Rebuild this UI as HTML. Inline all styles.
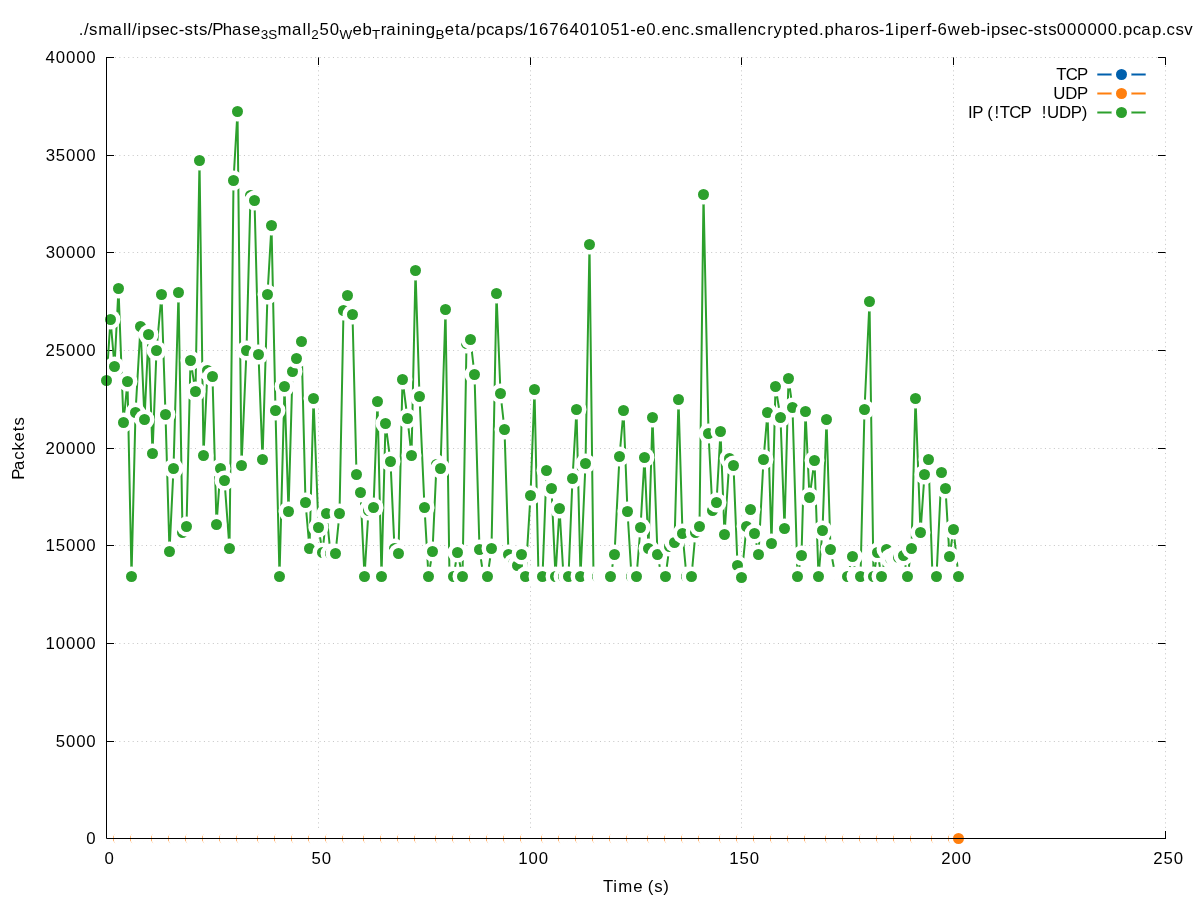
<!DOCTYPE html>
<html><head><meta charset="utf-8"><title>Packets over time</title>
<style>html,body{margin:0;padding:0;background:#fff;overflow:hidden}svg{display:block;will-change:transform}text{font-family:"Liberation Sans",sans-serif;fill:#000}</style></head>
<body>
<svg width="1197" height="900" viewBox="0 0 1197 900">
<rect width="1197" height="900" fill="#fff"/>
<g stroke="#000" stroke-opacity="0.23" stroke-width="1" stroke-dasharray="1 3.45" fill="none">
<path d="M106.0 838.5H1166.0"/><path d="M106.0 741.5H1166.0"/><path d="M106.0 643.5H1166.0"/><path d="M106.0 545.5H1166.0"/><path d="M106.0 448.5H1166.0"/><path d="M106.0 350.5H1166.0"/><path d="M106.0 252.5H1166.0"/><path d="M106.0 155.5H1166.0"/><path d="M106.0 57.5H1166.0"/><path d="M318.5 57.0V839.0"/><path d="M530.5 57.0V839.0"/><path d="M741.5 57.0V839.0"/><path d="M953.5 57.0V839.0"/><path d="M1165.5 57.0V839.0"/>
</g>
<g stroke="#000" stroke-width="1" fill="none">
<path d="M106.5 838.5h7.5M1165.5 838.5h-7.5"/><path d="M106.5 741.5h7.5M1165.5 741.5h-7.5"/><path d="M106.5 643.5h7.5M1165.5 643.5h-7.5"/><path d="M106.5 545.5h7.5M1165.5 545.5h-7.5"/><path d="M106.5 448.5h7.5M1165.5 448.5h-7.5"/><path d="M106.5 350.5h7.5M1165.5 350.5h-7.5"/><path d="M106.5 252.5h7.5M1165.5 252.5h-7.5"/><path d="M106.5 155.5h7.5M1165.5 155.5h-7.5"/><path d="M106.5 57.5h7.5M1165.5 57.5h-7.5"/><path d="M106.5 838.5v-7.5M106.5 57.5v7.5"/><path d="M318.5 838.5v-7.5M318.5 57.5v7.5"/><path d="M530.5 838.5v-7.5M530.5 57.5v7.5"/><path d="M741.5 838.5v-7.5M741.5 57.5v7.5"/><path d="M953.5 838.5v-7.5M953.5 57.5v7.5"/><path d="M1165.5 838.5v-7.5M1165.5 57.5v7.5"/>
</g>
<g id="ylabels">
<text x="86.33" y="844.10" font-size="16.80">0</text>
<text x="55.73 65.98 76.15 86.33" y="747.10" font-size="16.80">5000</text>
<text x="45.53 55.80 65.98 76.15 86.33" y="649.10" font-size="16.80">10000</text>
<text x="45.53 55.73 65.98 76.15 86.33" y="551.10" font-size="16.80">15000</text>
<text x="45.40 55.80 65.98 76.15 86.33" y="454.10" font-size="16.80">20000</text>
<text x="45.40 55.73 65.98 76.15 86.33" y="356.10" font-size="16.80">25000</text>
<text x="45.64 55.80 65.98 76.15 86.33" y="258.10" font-size="16.80">30000</text>
<text x="45.64 55.73 65.98 76.15 86.33" y="161.10" font-size="16.80">35000</text>
<text x="45.61 55.80 65.98 76.15 86.33" y="63.10" font-size="16.80">40000</text>
</g>
<g id="xlabels">
<text x="104.57" y="863.50" font-size="16.80">0</text>
<text x="311.42 321.66" y="863.50" font-size="16.80">50</text>
<text x="518.31 528.57 538.75" y="863.50" font-size="16.80">100</text>
<text x="729.31 739.51 749.75" y="863.50" font-size="16.80">150</text>
<text x="941.18 951.57 961.75" y="863.50" font-size="16.80">200</text>
<text x="1153.18 1163.51 1173.75" y="863.50" font-size="16.80">250</text>
</g>
<g id="xtitle"><text x="602.98 613.36 618.28 633.31" y="891.80" font-size="16.80">Time</text><text x="647.86 654.28 663.28" y="891.80" font-size="16.80">(s)</text></g>
<g id="ytitle" transform="translate(24.4 479.28) rotate(-90)"><text x="-0.51 9.28 19.46 28.81 37.80 48.12 53.71" y="0.00" font-size="16.80">Packets</text></g>
<g id="title"><text x="78.70 83.95 89.06 98.15 112.53 123.06 127.50 131.96 137.35 141.94 151.67 160.20 169.77 178.65 184.42 193.43 199.03 207.64 212.16 222.73 232.09 242.35 250.88" y="35.00" font-size="16.80">./small/ipsec-sts/Phase</text><text x="260.79" y="38.80" font-size="13.44">3</text><text x="268.24" y="38.80" font-size="13.44">S</text><text x="277.55 291.93 302.46 306.91" y="35.00" font-size="16.80">mall</text><text x="311.16" y="38.80" font-size="13.44">2</text><text x="319.49 329.73" y="35.00" font-size="16.80">50</text><text x="339.48" y="38.80" font-size="13.44">W</text><text x="352.44 362.51" y="35.00" font-size="16.80">eb</text><text x="371.96" y="38.80" font-size="13.44">T</text><text x="380.77 386.18 396.72 401.23 411.31 415.82 425.84" y="35.00" font-size="16.80">raining</text><text x="435.57" y="38.80" font-size="13.44">B</text><text x="444.75 455.07 460.21 470.75 476.28 485.94 494.36 505.04 514.77 523.39 528.75 539.01 549.16 559.37 569.55 579.73 589.83 600.09 610.21 620.37 630.31 636.27 646.25 656.21 661.38 671.38 681.09 690.08 695.05 704.14 718.52 729.05 733.49 737.87 747.86 757.58 767.16 773.47 782.92 793.33 799.12 808.99 819.04 824.43 834.49 843.85 854.83 860.83 870.48 878.82 884.83 895.05 899.64 909.57 919.93 926.40 931.43 937.53 947.76 960.66 970.73 980.47 986.52 991.11 1000.84 1009.37 1018.94 1027.82 1033.59 1042.60 1048.19 1056.86 1067.04 1077.22 1087.40 1097.58 1107.76 1117.73 1123.12 1132.78 1141.19 1151.88 1161.73 1166.62 1175.49 1184.28" y="35.00" font-size="16.80">eta/pcaps/1676401051-e0.enc.smallencrypted.pharos-1iperf-6web-ipsec-sts000000.pcap.csv</text></g>
<g class="key"><text x="1056.37 1065.81 1077.04" y="79.70" font-size="16.80">TCP</text></g>
<g class="key"><text x="1053.31 1065.35 1077.04" y="98.70" font-size="16.80">UDP</text></g>
<g class="key"><text x="968.01 972.19" y="117.70" font-size="16.80">IP</text><text x="987.34 994.56 999.86 1009.30 1020.53" y="117.70" font-size="16.80">(!TCP</text><text x="1041.74 1047.07 1059.11 1070.80 1081.71" y="117.70" font-size="16.80">!UDP)</text></g>
<g id="tcp"><path d="M1097.3 74.5H1145.7" stroke="#0060ad" stroke-width="2" fill="none"/><circle cx="1121.5" cy="74.5" r="9.95" fill="#fff"/><circle cx="1121.5" cy="74.5" r="5.5" fill="#0060ad"/>
</g>
<g id="udp"><path d="M1097.3 93.5H1145.7" stroke="#ff7f0e" stroke-width="2" fill="none"/><circle cx="1121.5" cy="93.5" r="9.95" fill="#fff"/><circle cx="1121.5" cy="93.5" r="5.5" fill="#ff7f0e"/>
<path d="M106.5 838.5H958.5" stroke="#ff7f0e" stroke-width="2" fill="none"/>
<circle cx="106.5" cy="838.5" r="9.95" fill="#fff"/><circle cx="106.5" cy="838.5" r="5.5" fill="#ff7f0e"/><circle cx="110.5" cy="838.5" r="9.95" fill="#fff"/><circle cx="110.5" cy="838.5" r="5.5" fill="#ff7f0e"/><circle cx="114.5" cy="838.5" r="9.95" fill="#fff"/><circle cx="114.5" cy="838.5" r="5.5" fill="#ff7f0e"/><circle cx="118.5" cy="838.5" r="9.95" fill="#fff"/><circle cx="118.5" cy="838.5" r="5.5" fill="#ff7f0e"/><circle cx="123.5" cy="838.5" r="9.95" fill="#fff"/><circle cx="123.5" cy="838.5" r="5.5" fill="#ff7f0e"/><circle cx="127.5" cy="838.5" r="9.95" fill="#fff"/><circle cx="127.5" cy="838.5" r="5.5" fill="#ff7f0e"/><circle cx="131.5" cy="838.5" r="9.95" fill="#fff"/><circle cx="131.5" cy="838.5" r="5.5" fill="#ff7f0e"/><circle cx="135.5" cy="838.5" r="9.95" fill="#fff"/><circle cx="135.5" cy="838.5" r="5.5" fill="#ff7f0e"/>
<circle cx="140.5" cy="838.5" r="9.95" fill="#fff"/><circle cx="140.5" cy="838.5" r="5.5" fill="#ff7f0e"/><circle cx="144.5" cy="838.5" r="9.95" fill="#fff"/><circle cx="144.5" cy="838.5" r="5.5" fill="#ff7f0e"/><circle cx="148.5" cy="838.5" r="9.95" fill="#fff"/><circle cx="148.5" cy="838.5" r="5.5" fill="#ff7f0e"/><circle cx="152.5" cy="838.5" r="9.95" fill="#fff"/><circle cx="152.5" cy="838.5" r="5.5" fill="#ff7f0e"/><circle cx="156.5" cy="838.5" r="9.95" fill="#fff"/><circle cx="156.5" cy="838.5" r="5.5" fill="#ff7f0e"/><circle cx="161.5" cy="838.5" r="9.95" fill="#fff"/><circle cx="161.5" cy="838.5" r="5.5" fill="#ff7f0e"/><circle cx="165.5" cy="838.5" r="9.95" fill="#fff"/><circle cx="165.5" cy="838.5" r="5.5" fill="#ff7f0e"/><circle cx="169.5" cy="838.5" r="9.95" fill="#fff"/><circle cx="169.5" cy="838.5" r="5.5" fill="#ff7f0e"/>
<circle cx="173.5" cy="838.5" r="9.95" fill="#fff"/><circle cx="173.5" cy="838.5" r="5.5" fill="#ff7f0e"/><circle cx="178.5" cy="838.5" r="9.95" fill="#fff"/><circle cx="178.5" cy="838.5" r="5.5" fill="#ff7f0e"/><circle cx="182.5" cy="838.5" r="9.95" fill="#fff"/><circle cx="182.5" cy="838.5" r="5.5" fill="#ff7f0e"/><circle cx="186.5" cy="838.5" r="9.95" fill="#fff"/><circle cx="186.5" cy="838.5" r="5.5" fill="#ff7f0e"/><circle cx="190.5" cy="838.5" r="9.95" fill="#fff"/><circle cx="190.5" cy="838.5" r="5.5" fill="#ff7f0e"/><circle cx="195.5" cy="838.5" r="9.95" fill="#fff"/><circle cx="195.5" cy="838.5" r="5.5" fill="#ff7f0e"/><circle cx="199.5" cy="838.5" r="9.95" fill="#fff"/><circle cx="199.5" cy="838.5" r="5.5" fill="#ff7f0e"/><circle cx="203.5" cy="838.5" r="9.95" fill="#fff"/><circle cx="203.5" cy="838.5" r="5.5" fill="#ff7f0e"/>
<circle cx="207.5" cy="838.5" r="9.95" fill="#fff"/><circle cx="207.5" cy="838.5" r="5.5" fill="#ff7f0e"/><circle cx="212.5" cy="838.5" r="9.95" fill="#fff"/><circle cx="212.5" cy="838.5" r="5.5" fill="#ff7f0e"/><circle cx="216.5" cy="838.5" r="9.95" fill="#fff"/><circle cx="216.5" cy="838.5" r="5.5" fill="#ff7f0e"/><circle cx="220.5" cy="838.5" r="9.95" fill="#fff"/><circle cx="220.5" cy="838.5" r="5.5" fill="#ff7f0e"/><circle cx="224.5" cy="838.5" r="9.95" fill="#fff"/><circle cx="224.5" cy="838.5" r="5.5" fill="#ff7f0e"/><circle cx="229.5" cy="838.5" r="9.95" fill="#fff"/><circle cx="229.5" cy="838.5" r="5.5" fill="#ff7f0e"/><circle cx="233.5" cy="838.5" r="9.95" fill="#fff"/><circle cx="233.5" cy="838.5" r="5.5" fill="#ff7f0e"/><circle cx="237.5" cy="838.5" r="9.95" fill="#fff"/><circle cx="237.5" cy="838.5" r="5.5" fill="#ff7f0e"/>
<circle cx="241.5" cy="838.5" r="9.95" fill="#fff"/><circle cx="241.5" cy="838.5" r="5.5" fill="#ff7f0e"/><circle cx="246.5" cy="838.5" r="9.95" fill="#fff"/><circle cx="246.5" cy="838.5" r="5.5" fill="#ff7f0e"/><circle cx="250.5" cy="838.5" r="9.95" fill="#fff"/><circle cx="250.5" cy="838.5" r="5.5" fill="#ff7f0e"/><circle cx="254.5" cy="838.5" r="9.95" fill="#fff"/><circle cx="254.5" cy="838.5" r="5.5" fill="#ff7f0e"/><circle cx="258.5" cy="838.5" r="9.95" fill="#fff"/><circle cx="258.5" cy="838.5" r="5.5" fill="#ff7f0e"/><circle cx="262.5" cy="838.5" r="9.95" fill="#fff"/><circle cx="262.5" cy="838.5" r="5.5" fill="#ff7f0e"/><circle cx="267.5" cy="838.5" r="9.95" fill="#fff"/><circle cx="267.5" cy="838.5" r="5.5" fill="#ff7f0e"/><circle cx="271.5" cy="838.5" r="9.95" fill="#fff"/><circle cx="271.5" cy="838.5" r="5.5" fill="#ff7f0e"/>
<circle cx="275.5" cy="838.5" r="9.95" fill="#fff"/><circle cx="275.5" cy="838.5" r="5.5" fill="#ff7f0e"/><circle cx="279.5" cy="838.5" r="9.95" fill="#fff"/><circle cx="279.5" cy="838.5" r="5.5" fill="#ff7f0e"/><circle cx="284.5" cy="838.5" r="9.95" fill="#fff"/><circle cx="284.5" cy="838.5" r="5.5" fill="#ff7f0e"/><circle cx="288.5" cy="838.5" r="9.95" fill="#fff"/><circle cx="288.5" cy="838.5" r="5.5" fill="#ff7f0e"/><circle cx="292.5" cy="838.5" r="9.95" fill="#fff"/><circle cx="292.5" cy="838.5" r="5.5" fill="#ff7f0e"/><circle cx="296.5" cy="838.5" r="9.95" fill="#fff"/><circle cx="296.5" cy="838.5" r="5.5" fill="#ff7f0e"/><circle cx="301.5" cy="838.5" r="9.95" fill="#fff"/><circle cx="301.5" cy="838.5" r="5.5" fill="#ff7f0e"/><circle cx="305.5" cy="838.5" r="9.95" fill="#fff"/><circle cx="305.5" cy="838.5" r="5.5" fill="#ff7f0e"/>
<circle cx="309.5" cy="838.5" r="9.95" fill="#fff"/><circle cx="309.5" cy="838.5" r="5.5" fill="#ff7f0e"/><circle cx="313.5" cy="838.5" r="9.95" fill="#fff"/><circle cx="313.5" cy="838.5" r="5.5" fill="#ff7f0e"/><circle cx="318.5" cy="838.5" r="9.95" fill="#fff"/><circle cx="318.5" cy="838.5" r="5.5" fill="#ff7f0e"/><circle cx="322.5" cy="838.5" r="9.95" fill="#fff"/><circle cx="322.5" cy="838.5" r="5.5" fill="#ff7f0e"/><circle cx="326.5" cy="838.5" r="9.95" fill="#fff"/><circle cx="326.5" cy="838.5" r="5.5" fill="#ff7f0e"/><circle cx="330.5" cy="838.5" r="9.95" fill="#fff"/><circle cx="330.5" cy="838.5" r="5.5" fill="#ff7f0e"/><circle cx="335.5" cy="838.5" r="9.95" fill="#fff"/><circle cx="335.5" cy="838.5" r="5.5" fill="#ff7f0e"/><circle cx="339.5" cy="838.5" r="9.95" fill="#fff"/><circle cx="339.5" cy="838.5" r="5.5" fill="#ff7f0e"/>
<circle cx="343.5" cy="838.5" r="9.95" fill="#fff"/><circle cx="343.5" cy="838.5" r="5.5" fill="#ff7f0e"/><circle cx="347.5" cy="838.5" r="9.95" fill="#fff"/><circle cx="347.5" cy="838.5" r="5.5" fill="#ff7f0e"/><circle cx="352.5" cy="838.5" r="9.95" fill="#fff"/><circle cx="352.5" cy="838.5" r="5.5" fill="#ff7f0e"/><circle cx="356.5" cy="838.5" r="9.95" fill="#fff"/><circle cx="356.5" cy="838.5" r="5.5" fill="#ff7f0e"/><circle cx="360.5" cy="838.5" r="9.95" fill="#fff"/><circle cx="360.5" cy="838.5" r="5.5" fill="#ff7f0e"/><circle cx="364.5" cy="838.5" r="9.95" fill="#fff"/><circle cx="364.5" cy="838.5" r="5.5" fill="#ff7f0e"/><circle cx="368.5" cy="838.5" r="9.95" fill="#fff"/><circle cx="368.5" cy="838.5" r="5.5" fill="#ff7f0e"/><circle cx="373.5" cy="838.5" r="9.95" fill="#fff"/><circle cx="373.5" cy="838.5" r="5.5" fill="#ff7f0e"/>
<circle cx="377.5" cy="838.5" r="9.95" fill="#fff"/><circle cx="377.5" cy="838.5" r="5.5" fill="#ff7f0e"/><circle cx="381.5" cy="838.5" r="9.95" fill="#fff"/><circle cx="381.5" cy="838.5" r="5.5" fill="#ff7f0e"/><circle cx="385.5" cy="838.5" r="9.95" fill="#fff"/><circle cx="385.5" cy="838.5" r="5.5" fill="#ff7f0e"/><circle cx="390.5" cy="838.5" r="9.95" fill="#fff"/><circle cx="390.5" cy="838.5" r="5.5" fill="#ff7f0e"/><circle cx="394.5" cy="838.5" r="9.95" fill="#fff"/><circle cx="394.5" cy="838.5" r="5.5" fill="#ff7f0e"/><circle cx="398.5" cy="838.5" r="9.95" fill="#fff"/><circle cx="398.5" cy="838.5" r="5.5" fill="#ff7f0e"/><circle cx="402.5" cy="838.5" r="9.95" fill="#fff"/><circle cx="402.5" cy="838.5" r="5.5" fill="#ff7f0e"/><circle cx="407.5" cy="838.5" r="9.95" fill="#fff"/><circle cx="407.5" cy="838.5" r="5.5" fill="#ff7f0e"/>
<circle cx="411.5" cy="838.5" r="9.95" fill="#fff"/><circle cx="411.5" cy="838.5" r="5.5" fill="#ff7f0e"/><circle cx="415.5" cy="838.5" r="9.95" fill="#fff"/><circle cx="415.5" cy="838.5" r="5.5" fill="#ff7f0e"/><circle cx="419.5" cy="838.5" r="9.95" fill="#fff"/><circle cx="419.5" cy="838.5" r="5.5" fill="#ff7f0e"/><circle cx="424.5" cy="838.5" r="9.95" fill="#fff"/><circle cx="424.5" cy="838.5" r="5.5" fill="#ff7f0e"/><circle cx="428.5" cy="838.5" r="9.95" fill="#fff"/><circle cx="428.5" cy="838.5" r="5.5" fill="#ff7f0e"/><circle cx="432.5" cy="838.5" r="9.95" fill="#fff"/><circle cx="432.5" cy="838.5" r="5.5" fill="#ff7f0e"/><circle cx="436.5" cy="838.5" r="9.95" fill="#fff"/><circle cx="436.5" cy="838.5" r="5.5" fill="#ff7f0e"/><circle cx="440.5" cy="838.5" r="9.95" fill="#fff"/><circle cx="440.5" cy="838.5" r="5.5" fill="#ff7f0e"/>
<circle cx="445.5" cy="838.5" r="9.95" fill="#fff"/><circle cx="445.5" cy="838.5" r="5.5" fill="#ff7f0e"/><circle cx="449.5" cy="838.5" r="9.95" fill="#fff"/><circle cx="449.5" cy="838.5" r="5.5" fill="#ff7f0e"/><circle cx="453.5" cy="838.5" r="9.95" fill="#fff"/><circle cx="453.5" cy="838.5" r="5.5" fill="#ff7f0e"/><circle cx="457.5" cy="838.5" r="9.95" fill="#fff"/><circle cx="457.5" cy="838.5" r="5.5" fill="#ff7f0e"/><circle cx="462.5" cy="838.5" r="9.95" fill="#fff"/><circle cx="462.5" cy="838.5" r="5.5" fill="#ff7f0e"/><circle cx="466.5" cy="838.5" r="9.95" fill="#fff"/><circle cx="466.5" cy="838.5" r="5.5" fill="#ff7f0e"/><circle cx="470.5" cy="838.5" r="9.95" fill="#fff"/><circle cx="470.5" cy="838.5" r="5.5" fill="#ff7f0e"/><circle cx="474.5" cy="838.5" r="9.95" fill="#fff"/><circle cx="474.5" cy="838.5" r="5.5" fill="#ff7f0e"/>
<circle cx="479.5" cy="838.5" r="9.95" fill="#fff"/><circle cx="479.5" cy="838.5" r="5.5" fill="#ff7f0e"/><circle cx="483.5" cy="838.5" r="9.95" fill="#fff"/><circle cx="483.5" cy="838.5" r="5.5" fill="#ff7f0e"/><circle cx="487.5" cy="838.5" r="9.95" fill="#fff"/><circle cx="487.5" cy="838.5" r="5.5" fill="#ff7f0e"/><circle cx="491.5" cy="838.5" r="9.95" fill="#fff"/><circle cx="491.5" cy="838.5" r="5.5" fill="#ff7f0e"/><circle cx="496.5" cy="838.5" r="9.95" fill="#fff"/><circle cx="496.5" cy="838.5" r="5.5" fill="#ff7f0e"/><circle cx="500.5" cy="838.5" r="9.95" fill="#fff"/><circle cx="500.5" cy="838.5" r="5.5" fill="#ff7f0e"/><circle cx="504.5" cy="838.5" r="9.95" fill="#fff"/><circle cx="504.5" cy="838.5" r="5.5" fill="#ff7f0e"/><circle cx="508.5" cy="838.5" r="9.95" fill="#fff"/><circle cx="508.5" cy="838.5" r="5.5" fill="#ff7f0e"/>
<circle cx="513.5" cy="838.5" r="9.95" fill="#fff"/><circle cx="513.5" cy="838.5" r="5.5" fill="#ff7f0e"/><circle cx="517.5" cy="838.5" r="9.95" fill="#fff"/><circle cx="517.5" cy="838.5" r="5.5" fill="#ff7f0e"/><circle cx="521.5" cy="838.5" r="9.95" fill="#fff"/><circle cx="521.5" cy="838.5" r="5.5" fill="#ff7f0e"/><circle cx="525.5" cy="838.5" r="9.95" fill="#fff"/><circle cx="525.5" cy="838.5" r="5.5" fill="#ff7f0e"/><circle cx="530.5" cy="838.5" r="9.95" fill="#fff"/><circle cx="530.5" cy="838.5" r="5.5" fill="#ff7f0e"/><circle cx="534.5" cy="838.5" r="9.95" fill="#fff"/><circle cx="534.5" cy="838.5" r="5.5" fill="#ff7f0e"/><circle cx="538.5" cy="838.5" r="9.95" fill="#fff"/><circle cx="538.5" cy="838.5" r="5.5" fill="#ff7f0e"/><circle cx="542.5" cy="838.5" r="9.95" fill="#fff"/><circle cx="542.5" cy="838.5" r="5.5" fill="#ff7f0e"/>
<circle cx="546.5" cy="838.5" r="9.95" fill="#fff"/><circle cx="546.5" cy="838.5" r="5.5" fill="#ff7f0e"/><circle cx="551.5" cy="838.5" r="9.95" fill="#fff"/><circle cx="551.5" cy="838.5" r="5.5" fill="#ff7f0e"/><circle cx="555.5" cy="838.5" r="9.95" fill="#fff"/><circle cx="555.5" cy="838.5" r="5.5" fill="#ff7f0e"/><circle cx="559.5" cy="838.5" r="9.95" fill="#fff"/><circle cx="559.5" cy="838.5" r="5.5" fill="#ff7f0e"/><circle cx="563.5" cy="838.5" r="9.95" fill="#fff"/><circle cx="563.5" cy="838.5" r="5.5" fill="#ff7f0e"/><circle cx="568.5" cy="838.5" r="9.95" fill="#fff"/><circle cx="568.5" cy="838.5" r="5.5" fill="#ff7f0e"/><circle cx="572.5" cy="838.5" r="9.95" fill="#fff"/><circle cx="572.5" cy="838.5" r="5.5" fill="#ff7f0e"/><circle cx="576.5" cy="838.5" r="9.95" fill="#fff"/><circle cx="576.5" cy="838.5" r="5.5" fill="#ff7f0e"/>
<circle cx="580.5" cy="838.5" r="9.95" fill="#fff"/><circle cx="580.5" cy="838.5" r="5.5" fill="#ff7f0e"/><circle cx="585.5" cy="838.5" r="9.95" fill="#fff"/><circle cx="585.5" cy="838.5" r="5.5" fill="#ff7f0e"/><circle cx="589.5" cy="838.5" r="9.95" fill="#fff"/><circle cx="589.5" cy="838.5" r="5.5" fill="#ff7f0e"/><circle cx="593.5" cy="838.5" r="9.95" fill="#fff"/><circle cx="593.5" cy="838.5" r="5.5" fill="#ff7f0e"/><circle cx="597.5" cy="838.5" r="9.95" fill="#fff"/><circle cx="597.5" cy="838.5" r="5.5" fill="#ff7f0e"/><circle cx="602.5" cy="838.5" r="9.95" fill="#fff"/><circle cx="602.5" cy="838.5" r="5.5" fill="#ff7f0e"/><circle cx="606.5" cy="838.5" r="9.95" fill="#fff"/><circle cx="606.5" cy="838.5" r="5.5" fill="#ff7f0e"/><circle cx="610.5" cy="838.5" r="9.95" fill="#fff"/><circle cx="610.5" cy="838.5" r="5.5" fill="#ff7f0e"/>
<circle cx="614.5" cy="838.5" r="9.95" fill="#fff"/><circle cx="614.5" cy="838.5" r="5.5" fill="#ff7f0e"/><circle cx="619.5" cy="838.5" r="9.95" fill="#fff"/><circle cx="619.5" cy="838.5" r="5.5" fill="#ff7f0e"/><circle cx="623.5" cy="838.5" r="9.95" fill="#fff"/><circle cx="623.5" cy="838.5" r="5.5" fill="#ff7f0e"/><circle cx="627.5" cy="838.5" r="9.95" fill="#fff"/><circle cx="627.5" cy="838.5" r="5.5" fill="#ff7f0e"/><circle cx="631.5" cy="838.5" r="9.95" fill="#fff"/><circle cx="631.5" cy="838.5" r="5.5" fill="#ff7f0e"/><circle cx="636.5" cy="838.5" r="9.95" fill="#fff"/><circle cx="636.5" cy="838.5" r="5.5" fill="#ff7f0e"/><circle cx="640.5" cy="838.5" r="9.95" fill="#fff"/><circle cx="640.5" cy="838.5" r="5.5" fill="#ff7f0e"/><circle cx="644.5" cy="838.5" r="9.95" fill="#fff"/><circle cx="644.5" cy="838.5" r="5.5" fill="#ff7f0e"/>
<circle cx="648.5" cy="838.5" r="9.95" fill="#fff"/><circle cx="648.5" cy="838.5" r="5.5" fill="#ff7f0e"/><circle cx="652.5" cy="838.5" r="9.95" fill="#fff"/><circle cx="652.5" cy="838.5" r="5.5" fill="#ff7f0e"/><circle cx="657.5" cy="838.5" r="9.95" fill="#fff"/><circle cx="657.5" cy="838.5" r="5.5" fill="#ff7f0e"/><circle cx="661.5" cy="838.5" r="9.95" fill="#fff"/><circle cx="661.5" cy="838.5" r="5.5" fill="#ff7f0e"/><circle cx="665.5" cy="838.5" r="9.95" fill="#fff"/><circle cx="665.5" cy="838.5" r="5.5" fill="#ff7f0e"/><circle cx="669.5" cy="838.5" r="9.95" fill="#fff"/><circle cx="669.5" cy="838.5" r="5.5" fill="#ff7f0e"/><circle cx="674.5" cy="838.5" r="9.95" fill="#fff"/><circle cx="674.5" cy="838.5" r="5.5" fill="#ff7f0e"/><circle cx="678.5" cy="838.5" r="9.95" fill="#fff"/><circle cx="678.5" cy="838.5" r="5.5" fill="#ff7f0e"/>
<circle cx="682.5" cy="838.5" r="9.95" fill="#fff"/><circle cx="682.5" cy="838.5" r="5.5" fill="#ff7f0e"/><circle cx="686.5" cy="838.5" r="9.95" fill="#fff"/><circle cx="686.5" cy="838.5" r="5.5" fill="#ff7f0e"/><circle cx="691.5" cy="838.5" r="9.95" fill="#fff"/><circle cx="691.5" cy="838.5" r="5.5" fill="#ff7f0e"/><circle cx="695.5" cy="838.5" r="9.95" fill="#fff"/><circle cx="695.5" cy="838.5" r="5.5" fill="#ff7f0e"/><circle cx="699.5" cy="838.5" r="9.95" fill="#fff"/><circle cx="699.5" cy="838.5" r="5.5" fill="#ff7f0e"/><circle cx="703.5" cy="838.5" r="9.95" fill="#fff"/><circle cx="703.5" cy="838.5" r="5.5" fill="#ff7f0e"/><circle cx="708.5" cy="838.5" r="9.95" fill="#fff"/><circle cx="708.5" cy="838.5" r="5.5" fill="#ff7f0e"/><circle cx="712.5" cy="838.5" r="9.95" fill="#fff"/><circle cx="712.5" cy="838.5" r="5.5" fill="#ff7f0e"/>
<circle cx="716.5" cy="838.5" r="9.95" fill="#fff"/><circle cx="716.5" cy="838.5" r="5.5" fill="#ff7f0e"/><circle cx="720.5" cy="838.5" r="9.95" fill="#fff"/><circle cx="720.5" cy="838.5" r="5.5" fill="#ff7f0e"/><circle cx="724.5" cy="838.5" r="9.95" fill="#fff"/><circle cx="724.5" cy="838.5" r="5.5" fill="#ff7f0e"/><circle cx="729.5" cy="838.5" r="9.95" fill="#fff"/><circle cx="729.5" cy="838.5" r="5.5" fill="#ff7f0e"/><circle cx="733.5" cy="838.5" r="9.95" fill="#fff"/><circle cx="733.5" cy="838.5" r="5.5" fill="#ff7f0e"/><circle cx="737.5" cy="838.5" r="9.95" fill="#fff"/><circle cx="737.5" cy="838.5" r="5.5" fill="#ff7f0e"/><circle cx="741.5" cy="838.5" r="9.95" fill="#fff"/><circle cx="741.5" cy="838.5" r="5.5" fill="#ff7f0e"/><circle cx="746.5" cy="838.5" r="9.95" fill="#fff"/><circle cx="746.5" cy="838.5" r="5.5" fill="#ff7f0e"/>
<circle cx="750.5" cy="838.5" r="9.95" fill="#fff"/><circle cx="750.5" cy="838.5" r="5.5" fill="#ff7f0e"/><circle cx="754.5" cy="838.5" r="9.95" fill="#fff"/><circle cx="754.5" cy="838.5" r="5.5" fill="#ff7f0e"/><circle cx="758.5" cy="838.5" r="9.95" fill="#fff"/><circle cx="758.5" cy="838.5" r="5.5" fill="#ff7f0e"/><circle cx="763.5" cy="838.5" r="9.95" fill="#fff"/><circle cx="763.5" cy="838.5" r="5.5" fill="#ff7f0e"/><circle cx="767.5" cy="838.5" r="9.95" fill="#fff"/><circle cx="767.5" cy="838.5" r="5.5" fill="#ff7f0e"/><circle cx="771.5" cy="838.5" r="9.95" fill="#fff"/><circle cx="771.5" cy="838.5" r="5.5" fill="#ff7f0e"/><circle cx="775.5" cy="838.5" r="9.95" fill="#fff"/><circle cx="775.5" cy="838.5" r="5.5" fill="#ff7f0e"/><circle cx="780.5" cy="838.5" r="9.95" fill="#fff"/><circle cx="780.5" cy="838.5" r="5.5" fill="#ff7f0e"/>
<circle cx="784.5" cy="838.5" r="9.95" fill="#fff"/><circle cx="784.5" cy="838.5" r="5.5" fill="#ff7f0e"/><circle cx="788.5" cy="838.5" r="9.95" fill="#fff"/><circle cx="788.5" cy="838.5" r="5.5" fill="#ff7f0e"/><circle cx="792.5" cy="838.5" r="9.95" fill="#fff"/><circle cx="792.5" cy="838.5" r="5.5" fill="#ff7f0e"/><circle cx="797.5" cy="838.5" r="9.95" fill="#fff"/><circle cx="797.5" cy="838.5" r="5.5" fill="#ff7f0e"/><circle cx="801.5" cy="838.5" r="9.95" fill="#fff"/><circle cx="801.5" cy="838.5" r="5.5" fill="#ff7f0e"/><circle cx="805.5" cy="838.5" r="9.95" fill="#fff"/><circle cx="805.5" cy="838.5" r="5.5" fill="#ff7f0e"/><circle cx="809.5" cy="838.5" r="9.95" fill="#fff"/><circle cx="809.5" cy="838.5" r="5.5" fill="#ff7f0e"/><circle cx="814.5" cy="838.5" r="9.95" fill="#fff"/><circle cx="814.5" cy="838.5" r="5.5" fill="#ff7f0e"/>
<circle cx="818.5" cy="838.5" r="9.95" fill="#fff"/><circle cx="818.5" cy="838.5" r="5.5" fill="#ff7f0e"/><circle cx="822.5" cy="838.5" r="9.95" fill="#fff"/><circle cx="822.5" cy="838.5" r="5.5" fill="#ff7f0e"/><circle cx="826.5" cy="838.5" r="9.95" fill="#fff"/><circle cx="826.5" cy="838.5" r="5.5" fill="#ff7f0e"/><circle cx="830.5" cy="838.5" r="9.95" fill="#fff"/><circle cx="830.5" cy="838.5" r="5.5" fill="#ff7f0e"/><circle cx="835.5" cy="838.5" r="9.95" fill="#fff"/><circle cx="835.5" cy="838.5" r="5.5" fill="#ff7f0e"/><circle cx="839.5" cy="838.5" r="9.95" fill="#fff"/><circle cx="839.5" cy="838.5" r="5.5" fill="#ff7f0e"/><circle cx="843.5" cy="838.5" r="9.95" fill="#fff"/><circle cx="843.5" cy="838.5" r="5.5" fill="#ff7f0e"/><circle cx="847.5" cy="838.5" r="9.95" fill="#fff"/><circle cx="847.5" cy="838.5" r="5.5" fill="#ff7f0e"/>
<circle cx="852.5" cy="838.5" r="9.95" fill="#fff"/><circle cx="852.5" cy="838.5" r="5.5" fill="#ff7f0e"/><circle cx="856.5" cy="838.5" r="9.95" fill="#fff"/><circle cx="856.5" cy="838.5" r="5.5" fill="#ff7f0e"/><circle cx="860.5" cy="838.5" r="9.95" fill="#fff"/><circle cx="860.5" cy="838.5" r="5.5" fill="#ff7f0e"/><circle cx="864.5" cy="838.5" r="9.95" fill="#fff"/><circle cx="864.5" cy="838.5" r="5.5" fill="#ff7f0e"/><circle cx="869.5" cy="838.5" r="9.95" fill="#fff"/><circle cx="869.5" cy="838.5" r="5.5" fill="#ff7f0e"/><circle cx="873.5" cy="838.5" r="9.95" fill="#fff"/><circle cx="873.5" cy="838.5" r="5.5" fill="#ff7f0e"/><circle cx="877.5" cy="838.5" r="9.95" fill="#fff"/><circle cx="877.5" cy="838.5" r="5.5" fill="#ff7f0e"/><circle cx="881.5" cy="838.5" r="9.95" fill="#fff"/><circle cx="881.5" cy="838.5" r="5.5" fill="#ff7f0e"/>
<circle cx="886.5" cy="838.5" r="9.95" fill="#fff"/><circle cx="886.5" cy="838.5" r="5.5" fill="#ff7f0e"/><circle cx="890.5" cy="838.5" r="9.95" fill="#fff"/><circle cx="890.5" cy="838.5" r="5.5" fill="#ff7f0e"/><circle cx="894.5" cy="838.5" r="9.95" fill="#fff"/><circle cx="894.5" cy="838.5" r="5.5" fill="#ff7f0e"/><circle cx="898.5" cy="838.5" r="9.95" fill="#fff"/><circle cx="898.5" cy="838.5" r="5.5" fill="#ff7f0e"/><circle cx="903.5" cy="838.5" r="9.95" fill="#fff"/><circle cx="903.5" cy="838.5" r="5.5" fill="#ff7f0e"/><circle cx="907.5" cy="838.5" r="9.95" fill="#fff"/><circle cx="907.5" cy="838.5" r="5.5" fill="#ff7f0e"/><circle cx="911.5" cy="838.5" r="9.95" fill="#fff"/><circle cx="911.5" cy="838.5" r="5.5" fill="#ff7f0e"/><circle cx="915.5" cy="838.5" r="9.95" fill="#fff"/><circle cx="915.5" cy="838.5" r="5.5" fill="#ff7f0e"/>
<circle cx="920.5" cy="838.5" r="9.95" fill="#fff"/><circle cx="920.5" cy="838.5" r="5.5" fill="#ff7f0e"/><circle cx="924.5" cy="838.5" r="9.95" fill="#fff"/><circle cx="924.5" cy="838.5" r="5.5" fill="#ff7f0e"/><circle cx="928.5" cy="838.5" r="9.95" fill="#fff"/><circle cx="928.5" cy="838.5" r="5.5" fill="#ff7f0e"/><circle cx="932.5" cy="838.5" r="9.95" fill="#fff"/><circle cx="932.5" cy="838.5" r="5.5" fill="#ff7f0e"/><circle cx="936.5" cy="838.5" r="9.95" fill="#fff"/><circle cx="936.5" cy="838.5" r="5.5" fill="#ff7f0e"/><circle cx="941.5" cy="838.5" r="9.95" fill="#fff"/><circle cx="941.5" cy="838.5" r="5.5" fill="#ff7f0e"/><circle cx="945.5" cy="838.5" r="9.95" fill="#fff"/><circle cx="945.5" cy="838.5" r="5.5" fill="#ff7f0e"/><circle cx="949.5" cy="838.5" r="9.95" fill="#fff"/><circle cx="949.5" cy="838.5" r="5.5" fill="#ff7f0e"/>
<circle cx="953.5" cy="838.5" r="9.95" fill="#fff"/><circle cx="953.5" cy="838.5" r="5.5" fill="#ff7f0e"/><circle cx="958.5" cy="838.5" r="9.95" fill="#fff"/><circle cx="958.5" cy="838.5" r="5.5" fill="#ff7f0e"/></g>
<g id="ip"><path d="M1097.3 112.5H1145.7" stroke="#2ca02c" stroke-width="2" fill="none"/><circle cx="1121.5" cy="112.5" r="9.95" fill="#fff"/><circle cx="1121.5" cy="112.5" r="5.5" fill="#2ca02c"/>
<polyline points="106.5,380.5 110.5,319.5 114.5,366.5 118.5,288.5 123.5,422.5 127.5,381.5 131.5,576.5 135.5,412.5 140.5,326.5 144.5,419.5 148.5,334.5 152.5,453.5 156.5,350.5 161.5,294.5 165.5,414.5 169.5,551.5 173.5,468.5 178.5,292.5 182.5,532.5 186.5,526.5 190.5,360.5 195.5,391.5 199.5,160.5 203.5,455.5 207.5,370.5 212.5,376.5 216.5,524.5 220.5,468.5 224.5,480.5 229.5,548.5 233.5,180.5 237.5,111.5 241.5,465.5 246.5,350.5 250.5,195.5 254.5,200.5 258.5,354.5 262.5,459.5 267.5,294.5 271.5,225.5 275.5,410.5 279.5,576.5 284.5,386.5 288.5,511.5 292.5,371.5 296.5,358.5 301.5,341.5 305.5,502.5 309.5,548.5 313.5,398.5 318.5,527.5 322.5,552.5 326.5,513.5 330.5,553.5 335.5,553.5 339.5,513.5 343.5,310.5 347.5,295.5 352.5,314.5 356.5,474.5 360.5,492.5 364.5,576.5 368.5,510.5 373.5,507.5 377.5,401.5 381.5,576.5 385.5,423.5 390.5,461.5 394.5,548.5 398.5,553.5 402.5,379.5 407.5,418.5 411.5,455.5 415.5,270.5 419.5,396.5 424.5,507.5 428.5,576.5 432.5,551.5 436.5,464.5 440.5,468.5 445.5,309.5 449.5,576.5 453.5,576.5 457.5,552.5 462.5,576.5 466.5,343.5 470.5,339.5 474.5,374.5 479.5,549.5 483.5,576.5 487.5,576.5 491.5,548.5 496.5,293.5 500.5,393.5 504.5,429.5 508.5,554.5 513.5,563.5 517.5,565.5 521.5,554.5 525.5,576.5 530.5,495.5 534.5,389.5 538.5,576.5 542.5,576.5 546.5,470.5 551.5,488.5 555.5,576.5 559.5,508.5 563.5,576.5 568.5,576.5 572.5,478.5 576.5,409.5 580.5,576.5 585.5,463.5 589.5,244.5 593.5,576.5 597.5,576.5 602.5,576.5 606.5,576.5 610.5,576.5 614.5,554.5 619.5,456.5 623.5,410.5 627.5,511.5 631.5,576.5 636.5,576.5 640.5,527.5 644.5,457.5 648.5,548.5 652.5,417.5 657.5,554.5 661.5,576.5 665.5,576.5 669.5,546.5 674.5,542.5 678.5,399.5 682.5,533.5 686.5,576.5 691.5,576.5 695.5,532.5 699.5,526.5 703.5,194.5 708.5,433.5 712.5,510.5 716.5,502.5 720.5,431.5 724.5,534.5 729.5,458.5 733.5,465.5 737.5,565.5 741.5,577.5 746.5,526.5 750.5,509.5 754.5,533.5 758.5,554.5 763.5,459.5 767.5,412.5 771.5,543.5 775.5,386.5 780.5,417.5 784.5,528.5 788.5,378.5 792.5,407.5 797.5,576.5 801.5,555.5 805.5,411.5 809.5,497.5 814.5,460.5 818.5,576.5 822.5,530.5 826.5,419.5 830.5,549.5 835.5,576.5 839.5,576.5 843.5,576.5 847.5,576.5 852.5,556.5 856.5,576.5 860.5,576.5 864.5,409.5 869.5,301.5 873.5,576.5 877.5,552.5 881.5,576.5 886.5,549.5 890.5,558.5 894.5,556.5 898.5,557.5 903.5,555.5 907.5,576.5 911.5,548.5 915.5,398.5 920.5,532.5 924.5,474.5 928.5,459.5 932.5,576.5 936.5,576.5 941.5,472.5 945.5,488.5 949.5,556.5 953.5,529.5 958.5,576.5" stroke="#2ca02c" stroke-width="2" fill="none" stroke-linejoin="round"/>
<circle cx="106.5" cy="380.5" r="9.95" fill="#fff"/><circle cx="106.5" cy="380.5" r="5.5" fill="#2ca02c"/><circle cx="110.5" cy="319.5" r="9.95" fill="#fff"/><circle cx="110.5" cy="319.5" r="5.5" fill="#2ca02c"/><circle cx="114.5" cy="366.5" r="9.95" fill="#fff"/><circle cx="114.5" cy="366.5" r="5.5" fill="#2ca02c"/><circle cx="118.5" cy="288.5" r="9.95" fill="#fff"/><circle cx="118.5" cy="288.5" r="5.5" fill="#2ca02c"/><circle cx="123.5" cy="422.5" r="9.95" fill="#fff"/><circle cx="123.5" cy="422.5" r="5.5" fill="#2ca02c"/><circle cx="127.5" cy="381.5" r="9.95" fill="#fff"/><circle cx="127.5" cy="381.5" r="5.5" fill="#2ca02c"/><circle cx="131.5" cy="576.5" r="9.95" fill="#fff"/><circle cx="131.5" cy="576.5" r="5.5" fill="#2ca02c"/><circle cx="135.5" cy="412.5" r="9.95" fill="#fff"/><circle cx="135.5" cy="412.5" r="5.5" fill="#2ca02c"/>
<circle cx="140.5" cy="326.5" r="9.95" fill="#fff"/><circle cx="140.5" cy="326.5" r="5.5" fill="#2ca02c"/><circle cx="144.5" cy="419.5" r="9.95" fill="#fff"/><circle cx="144.5" cy="419.5" r="5.5" fill="#2ca02c"/><circle cx="148.5" cy="334.5" r="9.95" fill="#fff"/><circle cx="148.5" cy="334.5" r="5.5" fill="#2ca02c"/><circle cx="152.5" cy="453.5" r="9.95" fill="#fff"/><circle cx="152.5" cy="453.5" r="5.5" fill="#2ca02c"/><circle cx="156.5" cy="350.5" r="9.95" fill="#fff"/><circle cx="156.5" cy="350.5" r="5.5" fill="#2ca02c"/><circle cx="161.5" cy="294.5" r="9.95" fill="#fff"/><circle cx="161.5" cy="294.5" r="5.5" fill="#2ca02c"/><circle cx="165.5" cy="414.5" r="9.95" fill="#fff"/><circle cx="165.5" cy="414.5" r="5.5" fill="#2ca02c"/><circle cx="169.5" cy="551.5" r="9.95" fill="#fff"/><circle cx="169.5" cy="551.5" r="5.5" fill="#2ca02c"/>
<circle cx="173.5" cy="468.5" r="9.95" fill="#fff"/><circle cx="173.5" cy="468.5" r="5.5" fill="#2ca02c"/><circle cx="178.5" cy="292.5" r="9.95" fill="#fff"/><circle cx="178.5" cy="292.5" r="5.5" fill="#2ca02c"/><circle cx="182.5" cy="532.5" r="9.95" fill="#fff"/><circle cx="182.5" cy="532.5" r="5.5" fill="#2ca02c"/><circle cx="186.5" cy="526.5" r="9.95" fill="#fff"/><circle cx="186.5" cy="526.5" r="5.5" fill="#2ca02c"/><circle cx="190.5" cy="360.5" r="9.95" fill="#fff"/><circle cx="190.5" cy="360.5" r="5.5" fill="#2ca02c"/><circle cx="195.5" cy="391.5" r="9.95" fill="#fff"/><circle cx="195.5" cy="391.5" r="5.5" fill="#2ca02c"/><circle cx="199.5" cy="160.5" r="9.95" fill="#fff"/><circle cx="199.5" cy="160.5" r="5.5" fill="#2ca02c"/><circle cx="203.5" cy="455.5" r="9.95" fill="#fff"/><circle cx="203.5" cy="455.5" r="5.5" fill="#2ca02c"/>
<circle cx="207.5" cy="370.5" r="9.95" fill="#fff"/><circle cx="207.5" cy="370.5" r="5.5" fill="#2ca02c"/><circle cx="212.5" cy="376.5" r="9.95" fill="#fff"/><circle cx="212.5" cy="376.5" r="5.5" fill="#2ca02c"/><circle cx="216.5" cy="524.5" r="9.95" fill="#fff"/><circle cx="216.5" cy="524.5" r="5.5" fill="#2ca02c"/><circle cx="220.5" cy="468.5" r="9.95" fill="#fff"/><circle cx="220.5" cy="468.5" r="5.5" fill="#2ca02c"/><circle cx="224.5" cy="480.5" r="9.95" fill="#fff"/><circle cx="224.5" cy="480.5" r="5.5" fill="#2ca02c"/><circle cx="229.5" cy="548.5" r="9.95" fill="#fff"/><circle cx="229.5" cy="548.5" r="5.5" fill="#2ca02c"/><circle cx="233.5" cy="180.5" r="9.95" fill="#fff"/><circle cx="233.5" cy="180.5" r="5.5" fill="#2ca02c"/><circle cx="237.5" cy="111.5" r="9.95" fill="#fff"/><circle cx="237.5" cy="111.5" r="5.5" fill="#2ca02c"/>
<circle cx="241.5" cy="465.5" r="9.95" fill="#fff"/><circle cx="241.5" cy="465.5" r="5.5" fill="#2ca02c"/><circle cx="246.5" cy="350.5" r="9.95" fill="#fff"/><circle cx="246.5" cy="350.5" r="5.5" fill="#2ca02c"/><circle cx="250.5" cy="195.5" r="9.95" fill="#fff"/><circle cx="250.5" cy="195.5" r="5.5" fill="#2ca02c"/><circle cx="254.5" cy="200.5" r="9.95" fill="#fff"/><circle cx="254.5" cy="200.5" r="5.5" fill="#2ca02c"/><circle cx="258.5" cy="354.5" r="9.95" fill="#fff"/><circle cx="258.5" cy="354.5" r="5.5" fill="#2ca02c"/><circle cx="262.5" cy="459.5" r="9.95" fill="#fff"/><circle cx="262.5" cy="459.5" r="5.5" fill="#2ca02c"/><circle cx="267.5" cy="294.5" r="9.95" fill="#fff"/><circle cx="267.5" cy="294.5" r="5.5" fill="#2ca02c"/><circle cx="271.5" cy="225.5" r="9.95" fill="#fff"/><circle cx="271.5" cy="225.5" r="5.5" fill="#2ca02c"/>
<circle cx="275.5" cy="410.5" r="9.95" fill="#fff"/><circle cx="275.5" cy="410.5" r="5.5" fill="#2ca02c"/><circle cx="279.5" cy="576.5" r="9.95" fill="#fff"/><circle cx="279.5" cy="576.5" r="5.5" fill="#2ca02c"/><circle cx="284.5" cy="386.5" r="9.95" fill="#fff"/><circle cx="284.5" cy="386.5" r="5.5" fill="#2ca02c"/><circle cx="288.5" cy="511.5" r="9.95" fill="#fff"/><circle cx="288.5" cy="511.5" r="5.5" fill="#2ca02c"/><circle cx="292.5" cy="371.5" r="9.95" fill="#fff"/><circle cx="292.5" cy="371.5" r="5.5" fill="#2ca02c"/><circle cx="296.5" cy="358.5" r="9.95" fill="#fff"/><circle cx="296.5" cy="358.5" r="5.5" fill="#2ca02c"/><circle cx="301.5" cy="341.5" r="9.95" fill="#fff"/><circle cx="301.5" cy="341.5" r="5.5" fill="#2ca02c"/><circle cx="305.5" cy="502.5" r="9.95" fill="#fff"/><circle cx="305.5" cy="502.5" r="5.5" fill="#2ca02c"/>
<circle cx="309.5" cy="548.5" r="9.95" fill="#fff"/><circle cx="309.5" cy="548.5" r="5.5" fill="#2ca02c"/><circle cx="313.5" cy="398.5" r="9.95" fill="#fff"/><circle cx="313.5" cy="398.5" r="5.5" fill="#2ca02c"/><circle cx="318.5" cy="527.5" r="9.95" fill="#fff"/><circle cx="318.5" cy="527.5" r="5.5" fill="#2ca02c"/><circle cx="322.5" cy="552.5" r="9.95" fill="#fff"/><circle cx="322.5" cy="552.5" r="5.5" fill="#2ca02c"/><circle cx="326.5" cy="513.5" r="9.95" fill="#fff"/><circle cx="326.5" cy="513.5" r="5.5" fill="#2ca02c"/><circle cx="330.5" cy="553.5" r="9.95" fill="#fff"/><circle cx="330.5" cy="553.5" r="5.5" fill="#2ca02c"/><circle cx="335.5" cy="553.5" r="9.95" fill="#fff"/><circle cx="335.5" cy="553.5" r="5.5" fill="#2ca02c"/><circle cx="339.5" cy="513.5" r="9.95" fill="#fff"/><circle cx="339.5" cy="513.5" r="5.5" fill="#2ca02c"/>
<circle cx="343.5" cy="310.5" r="9.95" fill="#fff"/><circle cx="343.5" cy="310.5" r="5.5" fill="#2ca02c"/><circle cx="347.5" cy="295.5" r="9.95" fill="#fff"/><circle cx="347.5" cy="295.5" r="5.5" fill="#2ca02c"/><circle cx="352.5" cy="314.5" r="9.95" fill="#fff"/><circle cx="352.5" cy="314.5" r="5.5" fill="#2ca02c"/><circle cx="356.5" cy="474.5" r="9.95" fill="#fff"/><circle cx="356.5" cy="474.5" r="5.5" fill="#2ca02c"/><circle cx="360.5" cy="492.5" r="9.95" fill="#fff"/><circle cx="360.5" cy="492.5" r="5.5" fill="#2ca02c"/><circle cx="364.5" cy="576.5" r="9.95" fill="#fff"/><circle cx="364.5" cy="576.5" r="5.5" fill="#2ca02c"/><circle cx="368.5" cy="510.5" r="9.95" fill="#fff"/><circle cx="368.5" cy="510.5" r="5.5" fill="#2ca02c"/><circle cx="373.5" cy="507.5" r="9.95" fill="#fff"/><circle cx="373.5" cy="507.5" r="5.5" fill="#2ca02c"/>
<circle cx="377.5" cy="401.5" r="9.95" fill="#fff"/><circle cx="377.5" cy="401.5" r="5.5" fill="#2ca02c"/><circle cx="381.5" cy="576.5" r="9.95" fill="#fff"/><circle cx="381.5" cy="576.5" r="5.5" fill="#2ca02c"/><circle cx="385.5" cy="423.5" r="9.95" fill="#fff"/><circle cx="385.5" cy="423.5" r="5.5" fill="#2ca02c"/><circle cx="390.5" cy="461.5" r="9.95" fill="#fff"/><circle cx="390.5" cy="461.5" r="5.5" fill="#2ca02c"/><circle cx="394.5" cy="548.5" r="9.95" fill="#fff"/><circle cx="394.5" cy="548.5" r="5.5" fill="#2ca02c"/><circle cx="398.5" cy="553.5" r="9.95" fill="#fff"/><circle cx="398.5" cy="553.5" r="5.5" fill="#2ca02c"/><circle cx="402.5" cy="379.5" r="9.95" fill="#fff"/><circle cx="402.5" cy="379.5" r="5.5" fill="#2ca02c"/><circle cx="407.5" cy="418.5" r="9.95" fill="#fff"/><circle cx="407.5" cy="418.5" r="5.5" fill="#2ca02c"/>
<circle cx="411.5" cy="455.5" r="9.95" fill="#fff"/><circle cx="411.5" cy="455.5" r="5.5" fill="#2ca02c"/><circle cx="415.5" cy="270.5" r="9.95" fill="#fff"/><circle cx="415.5" cy="270.5" r="5.5" fill="#2ca02c"/><circle cx="419.5" cy="396.5" r="9.95" fill="#fff"/><circle cx="419.5" cy="396.5" r="5.5" fill="#2ca02c"/><circle cx="424.5" cy="507.5" r="9.95" fill="#fff"/><circle cx="424.5" cy="507.5" r="5.5" fill="#2ca02c"/><circle cx="428.5" cy="576.5" r="9.95" fill="#fff"/><circle cx="428.5" cy="576.5" r="5.5" fill="#2ca02c"/><circle cx="432.5" cy="551.5" r="9.95" fill="#fff"/><circle cx="432.5" cy="551.5" r="5.5" fill="#2ca02c"/><circle cx="436.5" cy="464.5" r="9.95" fill="#fff"/><circle cx="436.5" cy="464.5" r="5.5" fill="#2ca02c"/><circle cx="440.5" cy="468.5" r="9.95" fill="#fff"/><circle cx="440.5" cy="468.5" r="5.5" fill="#2ca02c"/>
<circle cx="445.5" cy="309.5" r="9.95" fill="#fff"/><circle cx="445.5" cy="309.5" r="5.5" fill="#2ca02c"/><circle cx="449.5" cy="576.5" r="9.95" fill="#fff"/><circle cx="449.5" cy="576.5" r="5.5" fill="#2ca02c"/><circle cx="453.5" cy="576.5" r="9.95" fill="#fff"/><circle cx="453.5" cy="576.5" r="5.5" fill="#2ca02c"/><circle cx="457.5" cy="552.5" r="9.95" fill="#fff"/><circle cx="457.5" cy="552.5" r="5.5" fill="#2ca02c"/><circle cx="462.5" cy="576.5" r="9.95" fill="#fff"/><circle cx="462.5" cy="576.5" r="5.5" fill="#2ca02c"/><circle cx="466.5" cy="343.5" r="9.95" fill="#fff"/><circle cx="466.5" cy="343.5" r="5.5" fill="#2ca02c"/><circle cx="470.5" cy="339.5" r="9.95" fill="#fff"/><circle cx="470.5" cy="339.5" r="5.5" fill="#2ca02c"/><circle cx="474.5" cy="374.5" r="9.95" fill="#fff"/><circle cx="474.5" cy="374.5" r="5.5" fill="#2ca02c"/>
<circle cx="479.5" cy="549.5" r="9.95" fill="#fff"/><circle cx="479.5" cy="549.5" r="5.5" fill="#2ca02c"/><circle cx="483.5" cy="576.5" r="9.95" fill="#fff"/><circle cx="483.5" cy="576.5" r="5.5" fill="#2ca02c"/><circle cx="487.5" cy="576.5" r="9.95" fill="#fff"/><circle cx="487.5" cy="576.5" r="5.5" fill="#2ca02c"/><circle cx="491.5" cy="548.5" r="9.95" fill="#fff"/><circle cx="491.5" cy="548.5" r="5.5" fill="#2ca02c"/><circle cx="496.5" cy="293.5" r="9.95" fill="#fff"/><circle cx="496.5" cy="293.5" r="5.5" fill="#2ca02c"/><circle cx="500.5" cy="393.5" r="9.95" fill="#fff"/><circle cx="500.5" cy="393.5" r="5.5" fill="#2ca02c"/><circle cx="504.5" cy="429.5" r="9.95" fill="#fff"/><circle cx="504.5" cy="429.5" r="5.5" fill="#2ca02c"/><circle cx="508.5" cy="554.5" r="9.95" fill="#fff"/><circle cx="508.5" cy="554.5" r="5.5" fill="#2ca02c"/>
<circle cx="513.5" cy="563.5" r="9.95" fill="#fff"/><circle cx="513.5" cy="563.5" r="5.5" fill="#2ca02c"/><circle cx="517.5" cy="565.5" r="9.95" fill="#fff"/><circle cx="517.5" cy="565.5" r="5.5" fill="#2ca02c"/><circle cx="521.5" cy="554.5" r="9.95" fill="#fff"/><circle cx="521.5" cy="554.5" r="5.5" fill="#2ca02c"/><circle cx="525.5" cy="576.5" r="9.95" fill="#fff"/><circle cx="525.5" cy="576.5" r="5.5" fill="#2ca02c"/><circle cx="530.5" cy="495.5" r="9.95" fill="#fff"/><circle cx="530.5" cy="495.5" r="5.5" fill="#2ca02c"/><circle cx="534.5" cy="389.5" r="9.95" fill="#fff"/><circle cx="534.5" cy="389.5" r="5.5" fill="#2ca02c"/><circle cx="538.5" cy="576.5" r="9.95" fill="#fff"/><circle cx="538.5" cy="576.5" r="5.5" fill="#2ca02c"/><circle cx="542.5" cy="576.5" r="9.95" fill="#fff"/><circle cx="542.5" cy="576.5" r="5.5" fill="#2ca02c"/>
<circle cx="546.5" cy="470.5" r="9.95" fill="#fff"/><circle cx="546.5" cy="470.5" r="5.5" fill="#2ca02c"/><circle cx="551.5" cy="488.5" r="9.95" fill="#fff"/><circle cx="551.5" cy="488.5" r="5.5" fill="#2ca02c"/><circle cx="555.5" cy="576.5" r="9.95" fill="#fff"/><circle cx="555.5" cy="576.5" r="5.5" fill="#2ca02c"/><circle cx="559.5" cy="508.5" r="9.95" fill="#fff"/><circle cx="559.5" cy="508.5" r="5.5" fill="#2ca02c"/><circle cx="563.5" cy="576.5" r="9.95" fill="#fff"/><circle cx="563.5" cy="576.5" r="5.5" fill="#2ca02c"/><circle cx="568.5" cy="576.5" r="9.95" fill="#fff"/><circle cx="568.5" cy="576.5" r="5.5" fill="#2ca02c"/><circle cx="572.5" cy="478.5" r="9.95" fill="#fff"/><circle cx="572.5" cy="478.5" r="5.5" fill="#2ca02c"/><circle cx="576.5" cy="409.5" r="9.95" fill="#fff"/><circle cx="576.5" cy="409.5" r="5.5" fill="#2ca02c"/>
<circle cx="580.5" cy="576.5" r="9.95" fill="#fff"/><circle cx="580.5" cy="576.5" r="5.5" fill="#2ca02c"/><circle cx="585.5" cy="463.5" r="9.95" fill="#fff"/><circle cx="585.5" cy="463.5" r="5.5" fill="#2ca02c"/><circle cx="589.5" cy="244.5" r="9.95" fill="#fff"/><circle cx="589.5" cy="244.5" r="5.5" fill="#2ca02c"/><circle cx="593.5" cy="576.5" r="9.95" fill="#fff"/><circle cx="593.5" cy="576.5" r="5.5" fill="#2ca02c"/><circle cx="597.5" cy="576.5" r="9.95" fill="#fff"/><circle cx="597.5" cy="576.5" r="5.5" fill="#2ca02c"/><circle cx="602.5" cy="576.5" r="9.95" fill="#fff"/><circle cx="602.5" cy="576.5" r="5.5" fill="#2ca02c"/><circle cx="606.5" cy="576.5" r="9.95" fill="#fff"/><circle cx="606.5" cy="576.5" r="5.5" fill="#2ca02c"/><circle cx="610.5" cy="576.5" r="9.95" fill="#fff"/><circle cx="610.5" cy="576.5" r="5.5" fill="#2ca02c"/>
<circle cx="614.5" cy="554.5" r="9.95" fill="#fff"/><circle cx="614.5" cy="554.5" r="5.5" fill="#2ca02c"/><circle cx="619.5" cy="456.5" r="9.95" fill="#fff"/><circle cx="619.5" cy="456.5" r="5.5" fill="#2ca02c"/><circle cx="623.5" cy="410.5" r="9.95" fill="#fff"/><circle cx="623.5" cy="410.5" r="5.5" fill="#2ca02c"/><circle cx="627.5" cy="511.5" r="9.95" fill="#fff"/><circle cx="627.5" cy="511.5" r="5.5" fill="#2ca02c"/><circle cx="631.5" cy="576.5" r="9.95" fill="#fff"/><circle cx="631.5" cy="576.5" r="5.5" fill="#2ca02c"/><circle cx="636.5" cy="576.5" r="9.95" fill="#fff"/><circle cx="636.5" cy="576.5" r="5.5" fill="#2ca02c"/><circle cx="640.5" cy="527.5" r="9.95" fill="#fff"/><circle cx="640.5" cy="527.5" r="5.5" fill="#2ca02c"/><circle cx="644.5" cy="457.5" r="9.95" fill="#fff"/><circle cx="644.5" cy="457.5" r="5.5" fill="#2ca02c"/>
<circle cx="648.5" cy="548.5" r="9.95" fill="#fff"/><circle cx="648.5" cy="548.5" r="5.5" fill="#2ca02c"/><circle cx="652.5" cy="417.5" r="9.95" fill="#fff"/><circle cx="652.5" cy="417.5" r="5.5" fill="#2ca02c"/><circle cx="657.5" cy="554.5" r="9.95" fill="#fff"/><circle cx="657.5" cy="554.5" r="5.5" fill="#2ca02c"/><circle cx="661.5" cy="576.5" r="9.95" fill="#fff"/><circle cx="661.5" cy="576.5" r="5.5" fill="#2ca02c"/><circle cx="665.5" cy="576.5" r="9.95" fill="#fff"/><circle cx="665.5" cy="576.5" r="5.5" fill="#2ca02c"/><circle cx="669.5" cy="546.5" r="9.95" fill="#fff"/><circle cx="669.5" cy="546.5" r="5.5" fill="#2ca02c"/><circle cx="674.5" cy="542.5" r="9.95" fill="#fff"/><circle cx="674.5" cy="542.5" r="5.5" fill="#2ca02c"/><circle cx="678.5" cy="399.5" r="9.95" fill="#fff"/><circle cx="678.5" cy="399.5" r="5.5" fill="#2ca02c"/>
<circle cx="682.5" cy="533.5" r="9.95" fill="#fff"/><circle cx="682.5" cy="533.5" r="5.5" fill="#2ca02c"/><circle cx="686.5" cy="576.5" r="9.95" fill="#fff"/><circle cx="686.5" cy="576.5" r="5.5" fill="#2ca02c"/><circle cx="691.5" cy="576.5" r="9.95" fill="#fff"/><circle cx="691.5" cy="576.5" r="5.5" fill="#2ca02c"/><circle cx="695.5" cy="532.5" r="9.95" fill="#fff"/><circle cx="695.5" cy="532.5" r="5.5" fill="#2ca02c"/><circle cx="699.5" cy="526.5" r="9.95" fill="#fff"/><circle cx="699.5" cy="526.5" r="5.5" fill="#2ca02c"/><circle cx="703.5" cy="194.5" r="9.95" fill="#fff"/><circle cx="703.5" cy="194.5" r="5.5" fill="#2ca02c"/><circle cx="708.5" cy="433.5" r="9.95" fill="#fff"/><circle cx="708.5" cy="433.5" r="5.5" fill="#2ca02c"/><circle cx="712.5" cy="510.5" r="9.95" fill="#fff"/><circle cx="712.5" cy="510.5" r="5.5" fill="#2ca02c"/>
<circle cx="716.5" cy="502.5" r="9.95" fill="#fff"/><circle cx="716.5" cy="502.5" r="5.5" fill="#2ca02c"/><circle cx="720.5" cy="431.5" r="9.95" fill="#fff"/><circle cx="720.5" cy="431.5" r="5.5" fill="#2ca02c"/><circle cx="724.5" cy="534.5" r="9.95" fill="#fff"/><circle cx="724.5" cy="534.5" r="5.5" fill="#2ca02c"/><circle cx="729.5" cy="458.5" r="9.95" fill="#fff"/><circle cx="729.5" cy="458.5" r="5.5" fill="#2ca02c"/><circle cx="733.5" cy="465.5" r="9.95" fill="#fff"/><circle cx="733.5" cy="465.5" r="5.5" fill="#2ca02c"/><circle cx="737.5" cy="565.5" r="9.95" fill="#fff"/><circle cx="737.5" cy="565.5" r="5.5" fill="#2ca02c"/><circle cx="741.5" cy="577.5" r="9.95" fill="#fff"/><circle cx="741.5" cy="577.5" r="5.5" fill="#2ca02c"/><circle cx="746.5" cy="526.5" r="9.95" fill="#fff"/><circle cx="746.5" cy="526.5" r="5.5" fill="#2ca02c"/>
<circle cx="750.5" cy="509.5" r="9.95" fill="#fff"/><circle cx="750.5" cy="509.5" r="5.5" fill="#2ca02c"/><circle cx="754.5" cy="533.5" r="9.95" fill="#fff"/><circle cx="754.5" cy="533.5" r="5.5" fill="#2ca02c"/><circle cx="758.5" cy="554.5" r="9.95" fill="#fff"/><circle cx="758.5" cy="554.5" r="5.5" fill="#2ca02c"/><circle cx="763.5" cy="459.5" r="9.95" fill="#fff"/><circle cx="763.5" cy="459.5" r="5.5" fill="#2ca02c"/><circle cx="767.5" cy="412.5" r="9.95" fill="#fff"/><circle cx="767.5" cy="412.5" r="5.5" fill="#2ca02c"/><circle cx="771.5" cy="543.5" r="9.95" fill="#fff"/><circle cx="771.5" cy="543.5" r="5.5" fill="#2ca02c"/><circle cx="775.5" cy="386.5" r="9.95" fill="#fff"/><circle cx="775.5" cy="386.5" r="5.5" fill="#2ca02c"/><circle cx="780.5" cy="417.5" r="9.95" fill="#fff"/><circle cx="780.5" cy="417.5" r="5.5" fill="#2ca02c"/>
<circle cx="784.5" cy="528.5" r="9.95" fill="#fff"/><circle cx="784.5" cy="528.5" r="5.5" fill="#2ca02c"/><circle cx="788.5" cy="378.5" r="9.95" fill="#fff"/><circle cx="788.5" cy="378.5" r="5.5" fill="#2ca02c"/><circle cx="792.5" cy="407.5" r="9.95" fill="#fff"/><circle cx="792.5" cy="407.5" r="5.5" fill="#2ca02c"/><circle cx="797.5" cy="576.5" r="9.95" fill="#fff"/><circle cx="797.5" cy="576.5" r="5.5" fill="#2ca02c"/><circle cx="801.5" cy="555.5" r="9.95" fill="#fff"/><circle cx="801.5" cy="555.5" r="5.5" fill="#2ca02c"/><circle cx="805.5" cy="411.5" r="9.95" fill="#fff"/><circle cx="805.5" cy="411.5" r="5.5" fill="#2ca02c"/><circle cx="809.5" cy="497.5" r="9.95" fill="#fff"/><circle cx="809.5" cy="497.5" r="5.5" fill="#2ca02c"/><circle cx="814.5" cy="460.5" r="9.95" fill="#fff"/><circle cx="814.5" cy="460.5" r="5.5" fill="#2ca02c"/>
<circle cx="818.5" cy="576.5" r="9.95" fill="#fff"/><circle cx="818.5" cy="576.5" r="5.5" fill="#2ca02c"/><circle cx="822.5" cy="530.5" r="9.95" fill="#fff"/><circle cx="822.5" cy="530.5" r="5.5" fill="#2ca02c"/><circle cx="826.5" cy="419.5" r="9.95" fill="#fff"/><circle cx="826.5" cy="419.5" r="5.5" fill="#2ca02c"/><circle cx="830.5" cy="549.5" r="9.95" fill="#fff"/><circle cx="830.5" cy="549.5" r="5.5" fill="#2ca02c"/><circle cx="835.5" cy="576.5" r="9.95" fill="#fff"/><circle cx="835.5" cy="576.5" r="5.5" fill="#2ca02c"/><circle cx="839.5" cy="576.5" r="9.95" fill="#fff"/><circle cx="839.5" cy="576.5" r="5.5" fill="#2ca02c"/><circle cx="843.5" cy="576.5" r="9.95" fill="#fff"/><circle cx="843.5" cy="576.5" r="5.5" fill="#2ca02c"/><circle cx="847.5" cy="576.5" r="9.95" fill="#fff"/><circle cx="847.5" cy="576.5" r="5.5" fill="#2ca02c"/>
<circle cx="852.5" cy="556.5" r="9.95" fill="#fff"/><circle cx="852.5" cy="556.5" r="5.5" fill="#2ca02c"/><circle cx="856.5" cy="576.5" r="9.95" fill="#fff"/><circle cx="856.5" cy="576.5" r="5.5" fill="#2ca02c"/><circle cx="860.5" cy="576.5" r="9.95" fill="#fff"/><circle cx="860.5" cy="576.5" r="5.5" fill="#2ca02c"/><circle cx="864.5" cy="409.5" r="9.95" fill="#fff"/><circle cx="864.5" cy="409.5" r="5.5" fill="#2ca02c"/><circle cx="869.5" cy="301.5" r="9.95" fill="#fff"/><circle cx="869.5" cy="301.5" r="5.5" fill="#2ca02c"/><circle cx="873.5" cy="576.5" r="9.95" fill="#fff"/><circle cx="873.5" cy="576.5" r="5.5" fill="#2ca02c"/><circle cx="877.5" cy="552.5" r="9.95" fill="#fff"/><circle cx="877.5" cy="552.5" r="5.5" fill="#2ca02c"/><circle cx="881.5" cy="576.5" r="9.95" fill="#fff"/><circle cx="881.5" cy="576.5" r="5.5" fill="#2ca02c"/>
<circle cx="886.5" cy="549.5" r="9.95" fill="#fff"/><circle cx="886.5" cy="549.5" r="5.5" fill="#2ca02c"/><circle cx="890.5" cy="558.5" r="9.95" fill="#fff"/><circle cx="890.5" cy="558.5" r="5.5" fill="#2ca02c"/><circle cx="894.5" cy="556.5" r="9.95" fill="#fff"/><circle cx="894.5" cy="556.5" r="5.5" fill="#2ca02c"/><circle cx="898.5" cy="557.5" r="9.95" fill="#fff"/><circle cx="898.5" cy="557.5" r="5.5" fill="#2ca02c"/><circle cx="903.5" cy="555.5" r="9.95" fill="#fff"/><circle cx="903.5" cy="555.5" r="5.5" fill="#2ca02c"/><circle cx="907.5" cy="576.5" r="9.95" fill="#fff"/><circle cx="907.5" cy="576.5" r="5.5" fill="#2ca02c"/><circle cx="911.5" cy="548.5" r="9.95" fill="#fff"/><circle cx="911.5" cy="548.5" r="5.5" fill="#2ca02c"/><circle cx="915.5" cy="398.5" r="9.95" fill="#fff"/><circle cx="915.5" cy="398.5" r="5.5" fill="#2ca02c"/>
<circle cx="920.5" cy="532.5" r="9.95" fill="#fff"/><circle cx="920.5" cy="532.5" r="5.5" fill="#2ca02c"/><circle cx="924.5" cy="474.5" r="9.95" fill="#fff"/><circle cx="924.5" cy="474.5" r="5.5" fill="#2ca02c"/><circle cx="928.5" cy="459.5" r="9.95" fill="#fff"/><circle cx="928.5" cy="459.5" r="5.5" fill="#2ca02c"/><circle cx="932.5" cy="576.5" r="9.95" fill="#fff"/><circle cx="932.5" cy="576.5" r="5.5" fill="#2ca02c"/><circle cx="936.5" cy="576.5" r="9.95" fill="#fff"/><circle cx="936.5" cy="576.5" r="5.5" fill="#2ca02c"/><circle cx="941.5" cy="472.5" r="9.95" fill="#fff"/><circle cx="941.5" cy="472.5" r="5.5" fill="#2ca02c"/><circle cx="945.5" cy="488.5" r="9.95" fill="#fff"/><circle cx="945.5" cy="488.5" r="5.5" fill="#2ca02c"/><circle cx="949.5" cy="556.5" r="9.95" fill="#fff"/><circle cx="949.5" cy="556.5" r="5.5" fill="#2ca02c"/>
<circle cx="953.5" cy="529.5" r="9.95" fill="#fff"/><circle cx="953.5" cy="529.5" r="5.5" fill="#2ca02c"/><circle cx="958.5" cy="576.5" r="9.95" fill="#fff"/><circle cx="958.5" cy="576.5" r="5.5" fill="#2ca02c"/></g>
<path d="M106.5 57.0V838.5H1166.0" stroke="#000" stroke-width="1" fill="none"/>
</svg>
</body></html>
